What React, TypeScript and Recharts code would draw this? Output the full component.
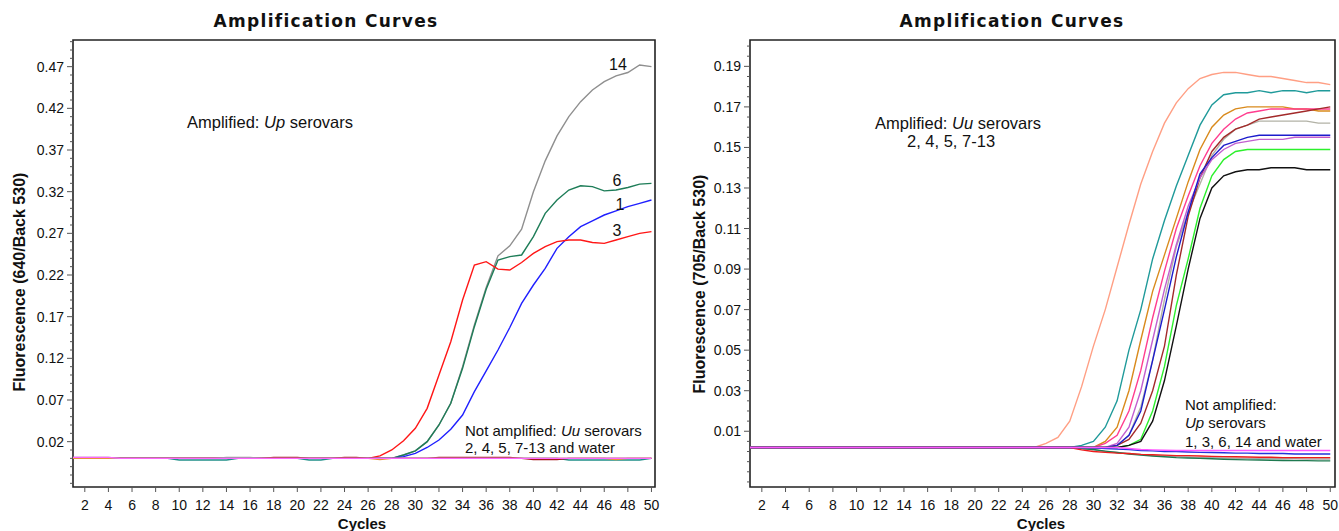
import React from 'react';
import { LineChart, Line, XAxis, YAxis, ReferenceArea } from 'recharts';

// ---------- shared x categories ----------
const cycles = [
  1, 2, 3, 4, 5, 6, 7, 8, 9, 10,
  11, 12, 13, 14, 15, 16, 17, 18, 19, 20,
  21, 22, 23, 24, 25, 26, 27, 28, 29, 30,
  31, 32, 33, 34, 35, 36, 37, 38, 39, 40,
  41, 42, 43, 44, 45, 46, 47, 48, 49, 50,
];
const xTickLabels = [2, 4, 6, 8, 10, 12, 14, 16, 18, 20, 22, 24, 26, 28, 30, 32, 34, 36, 38, 40, 42, 44, 46, 48, 50];

// ---------- left panel: 640/Back 530 ----------
const leftYTickLabels = [0.02, 0.07, 0.12, 0.17, 0.22, 0.27, 0.32, 0.37, 0.42, 0.47];

const leftUp14 = [
  0, 0, 0, 0, 0, 0, 0, 0, 0, 0,
  0, 0, 0, 0, 0, 0, 0, 0, 0, 0,
  0, 0, 0, 0, 0, 0, 0, 0, 0.004, 0.009,
  0.02, 0.04, 0.066, 0.11, 0.16, 0.205, 0.243, 0.255, 0.275, 0.32,
  0.357, 0.387, 0.41, 0.428, 0.442, 0.452, 0.459, 0.463, 0.472, 0.47,
];
const leftUp6 = [
  0, 0, 0, 0, 0, 0, 0, 0, 0, 0,
  0, 0, 0, 0, 0, 0, 0, 0, 0, 0,
  0, 0, 0, 0, 0, 0, 0, 0, 0.004, 0.009,
  0.02, 0.04, 0.066, 0.108, 0.158, 0.203, 0.238, 0.242, 0.244, 0.266,
  0.294, 0.31, 0.322, 0.327, 0.326, 0.321, 0.322, 0.325, 0.329, 0.33,
];
const leftUp1 = [
  0, 0, 0, 0, 0, 0, 0, 0, 0, 0,
  0, 0, 0, 0, 0, 0, 0, 0, 0, 0,
  0, 0, 0, 0, 0, 0, 0, 0, 0.002, 0.006,
  0.013, 0.022, 0.035, 0.052, 0.08, 0.105, 0.13, 0.157, 0.186, 0.208,
  0.228, 0.252, 0.266, 0.278, 0.285, 0.292, 0.297, 0.302, 0.306, 0.31,
];
const leftUp3 = [
  0, 0, 0, 0, 0, 0, 0, 0, 0, 0,
  0, 0, 0, 0, 0, 0, 0, 0, 0, 0,
  0, 0, 0, 0, 0, 0, 0.003, 0.01, 0.021, 0.036,
  0.06, 0.1, 0.14, 0.19, 0.232, 0.236, 0.227, 0.226, 0.235, 0.246,
  0.254, 0.26, 0.262, 0.262, 0.259, 0.258, 0.262, 0.266, 0.27, 0.272,
];
const leftUuA = [
  0, 0, 0, 0, 0, 0, 0, 0, 0, -0.002,
  -0.002, -0.002, -0.002, -0.002, 0, 0, 0, 0, 0, 0,
  -0.002, -0.002, 0, 0, 0, 0, 0, 0, 0, 0,
  0, 0, 0, 0, 0, 0, 0, 0, 0, 0,
  0, 0, -0.002, -0.002, -0.002, -0.002, -0.002, -0.002, -0.002, 0,
];
const leftUuB = [
  0, 0, 0, 0, 0, 0, 0, 0, 0, 0,
  0, 0, 0, 0, 0, 0, 0, 0.0012, 0.0012, 0.0012,
  0, 0, 0, 0.0012, 0.0012, 0, 0, 0, 0, 0,
  0, 0.0012, 0.0012, 0.0012, 0.0012, 0.0012, 0.0012, 0.0012, 0, -0.0015,
  -0.0015, -0.0015, 0, 0, 0, 0, 0, 0, 0, 0,
];
const leftUuC = [
  0, 0, 0, 0, 0, 0, 0, 0, 0, 0,
  0, 0, 0, 0, 0, 0, 0, 0, 0, 0,
  0, 0, 0, 0, 0, 0, -0.0015, 0, 0, 0,
  0, 0, 0, 0, 0, 0, 0, 0, 0, 0,
  0, 0, 0, 0, 0, 0, -0.0015, 0, 0, 0,
];
const leftUuD = [
  0.0012, 0.0012, 0.0012, 0.0012, 0, 0, 0, 0, 0, 0,
  0, 0, 0, 0.0012, 0.0012, 0.0012, 0, 0, 0, 0,
  0, 0, 0, 0, 0, 0, 0, 0, 0, 0,
  0, 0, 0, 0, 0, 0, 0, 0, 0, 0,
  0, 0, 0, 0, 0, 0, 0, 0, 0, 0,
];
const leftWater = [
  0.0012, 0.0012, 0.0012, 0.0012, 0, 0, 0, 0, 0, 0,
  0, 0, 0, 0, 0, 0, 0, 0, 0, 0,
  0, 0, 0, 0, 0, 0, 0, 0, 0, 0,
  0, 0, 0, 0, 0, 0, 0, 0, 0, 0,
  0, 0, 0, 0, 0, 0, 0, 0, 0, 0,
];

// ---------- right panel: 705/Back 530 ----------
const rightYTickLabels = [0.01, 0.03, 0.05, 0.07, 0.09, 0.11, 0.13, 0.15, 0.17, 0.19];

const rightUuSalmon = [
  0.002, 0.002, 0.002, 0.002, 0.002, 0.002, 0.002, 0.002, 0.002, 0.002,
  0.002, 0.002, 0.002, 0.002, 0.002, 0.002, 0.002, 0.002, 0.002, 0.002,
  0.002, 0.002, 0.002, 0.002, 0.002, 0.004, 0.007, 0.015, 0.032, 0.052,
  0.07, 0.091, 0.112, 0.132, 0.148, 0.162, 0.172, 0.179, 0.184, 0.186,
  0.187, 0.187, 0.186, 0.185, 0.185, 0.184, 0.183, 0.182, 0.182, 0.181,
];
const rightUuTeal = [
  0.002, 0.002, 0.002, 0.002, 0.002, 0.002, 0.002, 0.002, 0.002, 0.002,
  0.002, 0.002, 0.002, 0.002, 0.002, 0.002, 0.002, 0.002, 0.002, 0.002,
  0.002, 0.002, 0.002, 0.002, 0.002, 0.002, 0.002, 0.002, 0.003, 0.005,
  0.012, 0.025, 0.05, 0.07, 0.095, 0.114, 0.131, 0.146, 0.161, 0.171,
  0.176, 0.177, 0.177, 0.178, 0.177, 0.178, 0.178, 0.177, 0.178, 0.178,
];
const rightUuOrange = [
  0.002, 0.002, 0.002, 0.002, 0.002, 0.002, 0.002, 0.002, 0.002, 0.002,
  0.002, 0.002, 0.002, 0.002, 0.002, 0.002, 0.002, 0.002, 0.002, 0.002,
  0.002, 0.002, 0.002, 0.002, 0.002, 0.002, 0.002, 0.002, 0.002, 0.002,
  0.005, 0.012, 0.03, 0.055, 0.079, 0.097, 0.115, 0.133, 0.149, 0.16,
  0.166, 0.169, 0.17, 0.17, 0.17, 0.17, 0.169, 0.169, 0.168, 0.168,
];
const rightUuPink = [
  0.002, 0.002, 0.002, 0.002, 0.002, 0.002, 0.002, 0.002, 0.002, 0.002,
  0.002, 0.002, 0.002, 0.002, 0.002, 0.002, 0.002, 0.002, 0.002, 0.002,
  0.002, 0.002, 0.002, 0.002, 0.002, 0.002, 0.002, 0.002, 0.002, 0.002,
  0.004, 0.008, 0.02, 0.04, 0.066, 0.089, 0.11, 0.126, 0.141, 0.152,
  0.159, 0.164, 0.167, 0.168, 0.169, 0.169, 0.169, 0.169, 0.169, 0.169,
];
const rightUuDarkRed = [
  0.002, 0.002, 0.002, 0.002, 0.002, 0.002, 0.002, 0.002, 0.002, 0.002,
  0.002, 0.002, 0.002, 0.002, 0.002, 0.002, 0.002, 0.002, 0.002, 0.002,
  0.002, 0.002, 0.002, 0.002, 0.002, 0.002, 0.002, 0.002, 0.002, 0.002,
  0.002, 0.003, 0.006, 0.014, 0.03, 0.052, 0.087, 0.116, 0.135, 0.148,
  0.155, 0.159, 0.161, 0.164, 0.165, 0.166, 0.167, 0.168, 0.169, 0.17,
];
const rightUuGray = [
  0.002, 0.002, 0.002, 0.002, 0.002, 0.002, 0.002, 0.002, 0.002, 0.002,
  0.002, 0.002, 0.002, 0.002, 0.002, 0.002, 0.002, 0.002, 0.002, 0.002,
  0.002, 0.002, 0.002, 0.002, 0.002, 0.002, 0.002, 0.002, 0.002, 0.002,
  0.002, 0.003, 0.008, 0.022, 0.045, 0.075, 0.101, 0.118, 0.132, 0.146,
  0.154, 0.159, 0.161, 0.163, 0.163, 0.163, 0.163, 0.163, 0.162, 0.162,
];
const rightUuBlue = [
  0.002, 0.002, 0.002, 0.002, 0.002, 0.002, 0.002, 0.002, 0.002, 0.002,
  0.002, 0.002, 0.002, 0.002, 0.002, 0.002, 0.002, 0.002, 0.002, 0.002,
  0.002, 0.002, 0.002, 0.002, 0.002, 0.002, 0.002, 0.002, 0.002, 0.002,
  0.002, 0.003, 0.008, 0.02, 0.045, 0.07, 0.096, 0.118, 0.137, 0.145,
  0.151, 0.153, 0.155, 0.156, 0.156, 0.156, 0.156, 0.156, 0.156, 0.156,
];
const rightUuViolet = [
  0.002, 0.002, 0.002, 0.002, 0.002, 0.002, 0.002, 0.002, 0.002, 0.002,
  0.002, 0.002, 0.002, 0.002, 0.002, 0.002, 0.002, 0.002, 0.002, 0.002,
  0.002, 0.002, 0.002, 0.002, 0.002, 0.002, 0.002, 0.002, 0.002, 0.002,
  0.002, 0.004, 0.012, 0.03, 0.055, 0.08, 0.102, 0.121, 0.135, 0.144,
  0.149, 0.152, 0.153, 0.154, 0.154, 0.154, 0.155, 0.155, 0.155, 0.155,
];
const rightUuGreen = [
  0.002, 0.002, 0.002, 0.002, 0.002, 0.002, 0.002, 0.002, 0.002, 0.002,
  0.002, 0.002, 0.002, 0.002, 0.002, 0.002, 0.002, 0.002, 0.002, 0.002,
  0.002, 0.002, 0.002, 0.002, 0.002, 0.002, 0.002, 0.002, 0.002, 0.002,
  0.002, 0.002, 0.003, 0.006, 0.02, 0.042, 0.072, 0.095, 0.12, 0.136,
  0.144, 0.148, 0.149, 0.149, 0.149, 0.149, 0.149, 0.149, 0.149, 0.149,
];
const rightUuBlack = [
  0.002, 0.002, 0.002, 0.002, 0.002, 0.002, 0.002, 0.002, 0.002, 0.002,
  0.002, 0.002, 0.002, 0.002, 0.002, 0.002, 0.002, 0.002, 0.002, 0.002,
  0.002, 0.002, 0.002, 0.002, 0.002, 0.002, 0.002, 0.002, 0.002, 0.002,
  0.002, 0.002, 0.003, 0.005, 0.015, 0.035, 0.062, 0.09, 0.115, 0.13,
  0.136, 0.138, 0.139, 0.139, 0.14, 0.14, 0.14, 0.139, 0.139, 0.139,
];
const rightUp1 = [
  0.002, 0.002, 0.002, 0.002, 0.002, 0.002, 0.002, 0.002, 0.002, 0.002,
  0.002, 0.002, 0.002, 0.002, 0.002, 0.002, 0.002, 0.002, 0.002, 0.002,
  0.002, 0.002, 0.002, 0.002, 0.002, 0.002, 0.002, 0.002, 0.002, 0.0018,
  0.0015, 0.0012, 0.001, 0.0005, 0.0003, 0, 0, -0.0002, -0.0004, -0.0005,
  -0.0006, -0.0008, -0.0008, -0.001, -0.001, -0.001, -0.0012, -0.0012, -0.0012, -0.0012,
];
const rightUp3 = [
  0.002, 0.002, 0.002, 0.002, 0.002, 0.002, 0.002, 0.002, 0.002, 0.002,
  0.002, 0.002, 0.002, 0.002, 0.002, 0.002, 0.002, 0.002, 0.002, 0.002,
  0.002, 0.002, 0.002, 0.002, 0.002, 0.002, 0.002, 0.002, 0.0008, 0,
  -0.0004, -0.0008, -0.001, -0.0014, -0.0016, -0.0018, -0.002, -0.002, -0.0022, -0.0024,
  -0.0025, -0.0026, -0.0027, -0.0028, -0.0028, -0.003, -0.003, -0.003, -0.003, -0.003,
];
const rightUp6 = [
  0.002, 0.002, 0.002, 0.002, 0.002, 0.002, 0.002, 0.002, 0.002, 0.002,
  0.002, 0.002, 0.002, 0.002, 0.002, 0.002, 0.002, 0.002, 0.002, 0.002,
  0.002, 0.002, 0.002, 0.002, 0.002, 0.002, 0.002, 0.002, 0.0015, 0.001,
  0.0002, -0.0005, -0.0012, -0.0018, -0.0022, -0.0026, -0.003, -0.0032, -0.0034, -0.0036,
  -0.0038, -0.004, -0.0041, -0.0042, -0.0043, -0.0044, -0.0045, -0.0045, -0.0046, -0.0046,
];
const rightUp14 = [
  0.002, 0.002, 0.002, 0.002, 0.002, 0.002, 0.002, 0.002, 0.002, 0.002,
  0.002, 0.002, 0.002, 0.002, 0.002, 0.002, 0.002, 0.002, 0.002, 0.002,
  0.002, 0.002, 0.002, 0.002, 0.002, 0.002, 0.002, 0.002, 0.0015, 0.0008,
  0, -0.0005, -0.001, -0.0015, -0.002, -0.0022, -0.0025, -0.0027, -0.003, -0.003,
  -0.0032, -0.0033, -0.0034, -0.0035, -0.0035, -0.0036, -0.0036, -0.0037, -0.0037, -0.0037,
];
const rightWater = [
  0.002, 0.002, 0.002, 0.002, 0.002, 0.002, 0.002, 0.002, 0.002, 0.002,
  0.002, 0.002, 0.002, 0.002, 0.002, 0.002, 0.002, 0.002, 0.002, 0.002,
  0.002, 0.002, 0.002, 0.002, 0.002, 0.002, 0.002, 0.002, 0.002, 0.002,
  0.002, 0.002, 0.0015, 0.001, 0.0008, 0.0006, 0.0005, 0.0005, 0.0005, 0.0005,
  0.0005, 0.0005, 0.0005, 0.0005, 0.0005, 0.0005, 0.0005, 0.0005, 0.0005, 0.0005,
];

type Series = { key: string; values: number[]; color: string };

// drawing order: first = bottom
const leftSeries: Series[] = [
  { key: 'up14', values: leftUp14, color: '#8f8f8f' },
  { key: 'up6', values: leftUp6, color: '#1e7d58' },
  { key: 'up1', values: leftUp1, color: '#1f1fff' },
  { key: 'up3', values: leftUp3, color: '#ff1616' },
  { key: 'uuA', values: leftUuA, color: '#1f8f88' },
  { key: 'uuB', values: leftUuB, color: '#a3161c' },
  { key: 'uuC', values: leftUuC, color: '#e8923a' },
  { key: 'uuD', values: leftUuD, color: '#999999' },
  { key: 'water', values: leftWater, color: '#ff66ff' },
];

const rightSeries: Series[] = [
  { key: 'salmon', values: rightUuSalmon, color: '#ff9f84' },
  { key: 'teal', values: rightUuTeal, color: '#1f9a9a' },
  { key: 'orange', values: rightUuOrange, color: '#d98a1c' },
  { key: 'pink', values: rightUuPink, color: '#ff3d8f' },
  { key: 'gray', values: rightUuGray, color: '#b2b2a6' },
  { key: 'darkred', values: rightUuDarkRed, color: '#a32a2a' },
  { key: 'violet', values: rightUuViolet, color: '#c25fcf' },
  { key: 'blue', values: rightUuBlue, color: '#1c1ccc' },
  { key: 'green', values: rightUuGreen, color: '#2cf02c' },
  { key: 'black', values: rightUuBlack, color: '#111111' },
  { key: 'up14', values: rightUp14, color: '#a8a8a8' },
  { key: 'up6', values: rightUp6, color: '#1e7a50' },
  { key: 'up3', values: rightUp3, color: '#ee1c1c' },
  { key: 'up1', values: rightUp1, color: '#2233dd' },
  { key: 'water', values: rightWater, color: '#ff55ff' },
];

const FONT = '"Liberation Sans", Arial, sans-serif';

function buildRows(series: Series[]) {
  return cycles.map((c, i) => {
    const r: Record<string, number> = { cycle: c };
    series.forEach((s) => {
      r[s.key] = s.values[i];
    });
    return r;
  });
}

function minorTicks(domain: [number, number], step: number): number[] {
  const out: number[] = [];
  const start = Math.ceil(domain[0] / step);
  const end = Math.floor(domain[1] / step);
  for (let k = start; k <= end; k++) out.push(Math.round(k * step * 10000) / 10000);
  return out;
}

type PanelProps = {
  left: number;
  width: number;
  yAxisWidth: number;
  marginRight: number;
  series: Series[];
  yDomain: [number, number];
  xDomain: [number, number];
  yMajor: number[];
  yMinorStep: number;
};

function Panel(p: PanelProps) {
  const rows = buildRows(p.series);
  const minors = minorTicks(p.yDomain, p.yMinorStep);
  const allTicks = Array.from(new Set([...minors, ...p.yMajor])).sort((a, b) => a - b);
  const isMajor = (v: number) => p.yMajor.some((m) => Math.abs(m - v) < 1e-7);

  const yTick = (props: any) => {
    const { x, y, payload } = props;
    const v = payload.value as number;
    const major = isMajor(v);
    return (
      <g>
        <line x1={x - (major ? 6 : 3)} x2={x} y1={y} y2={y} stroke="#555" strokeWidth={1} />
        {major && (
          <text x={x - 9} y={y} dy="0.36em" textAnchor="end" fontSize={14} fontFamily={FONT} fill="#111">
            {v.toFixed(2)}
          </text>
        )}
      </g>
    );
  };

  const xTick = (props: any) => {
    const { x, y, payload } = props;
    return (
      <g>
        <line x1={x} x2={x} y1={y} y2={y + 5} stroke="#555" strokeWidth={1} />
        <text x={x} y={y + 18} dy="0.36em" textAnchor="middle" fontSize={14} fontFamily={FONT} fill="#111">
          {payload.value}
        </text>
      </g>
    );
  };

  return (
    <div style={{ position: 'absolute', left: p.left, top: 0 }}>
      <LineChart
        width={p.width}
        height={531}
        data={rows}
        margin={{ top: 40, right: p.marginRight, bottom: 14, left: 0 }}
      >
        <XAxis
          dataKey="cycle"
          type="number"
          domain={p.xDomain}
          allowDataOverflow
          ticks={xTickLabels}
          interval={0}
          tickSize={0}
          tickMargin={0}
          tickLine={false}
          axisLine={false}
          tick={xTick}
          height={30}
        />
        <YAxis
          type="number"
          domain={p.yDomain}
          allowDataOverflow
          ticks={allTicks}
          interval={0}
          tickSize={0}
          tickMargin={0}
          tickLine={false}
          axisLine={false}
          tick={yTick}
          width={p.yAxisWidth}
        />
        <ReferenceArea
          x1={p.xDomain[0]}
          x2={p.xDomain[1]}
          y1={p.yDomain[0]}
          y2={p.yDomain[1]}
          fill="none"
          fillOpacity={0}
          stroke="#222"
          strokeWidth={1.6}
          ifOverflow="visible"
        />
        {p.series.map((s) => (
          <Line
            key={s.key}
            dataKey={s.key}
            type="linear"
            stroke={s.color}
            strokeWidth={1.4}
            dot={false}
            activeDot={false}
            isAnimationActive={false}
          />
        ))}
      </LineChart>
    </div>
  );
}

const abs = (left: number, top: number, extra: React.CSSProperties = {}): React.CSSProperties => ({
  position: 'absolute',
  left,
  top,
  whiteSpace: 'nowrap',
  fontFamily: FONT,
  color: '#111',
  lineHeight: 1,
  ...extra,
});

function Title({ cx, cy, children }: { cx: number; cy: number; children: React.ReactNode }) {
  return (
    <div
      style={abs(cx, cy, {
        transform: 'translate(-50%, -50%)',
        fontFamily: '"DejaVu Sans", sans-serif',
        fontWeight: 700,
        fontSize: 17,
        letterSpacing: 1.3,
      })}
    >
      {children}
    </div>
  );
}

function Centered({ cx, cy, size, bold, rotate, children }: { cx: number; cy: number; size: number; bold?: boolean; rotate?: boolean; children: React.ReactNode }) {
  return (
    <div
      style={abs(cx, cy, {
        transform: `translate(-50%, -50%)${rotate ? ' rotate(-90deg)' : ''}`,
        fontWeight: bold ? 700 : 400,
        fontSize: size,
      })}
    >
      {children}
    </div>
  );
}

function Note({ x, cy, size, children }: { x: number; cy: number; size: number; children: React.ReactNode }) {
  return <div style={abs(x, cy, { transform: 'translateY(-50%)', fontSize: size })}>{children}</div>;
}

export default function App() {
  return (
    <div
      style={{
        position: 'absolute',
        left: 0,
        top: 0,
        width: 1339,
        height: 531,
        background: '#fff',
        overflow: 'hidden',
      }}
    >
      <Panel
        left={0}
        width={670}
        yAxisWidth={73}
        marginRight={15}
        series={leftSeries}
        yDomain={[-0.0344, 0.502]}
        xDomain={[1, 50.3]}
        yMajor={leftYTickLabels}
        yMinorStep={0.01}
      />
      <Panel
        left={670}
        width={669}
        yAxisWidth={80}
        marginRight={4}
        series={rightSeries}
        yDomain={[-0.0175, 0.203]}
        xDomain={[1, 50.4]}
        yMajor={rightYTickLabels}
        yMinorStep={0.005}
      />

      <Title cx={326} cy={21}>Amplification Curves</Title>
      <Title cx={1012} cy={21}>Amplification Curves</Title>

      <Centered cx={20} cy={282} size={16} bold rotate>Fluorescence (640/Back 530)</Centered>
      <Centered cx={700} cy={284} size={16} bold rotate>Fluorescence (705/Back 530)</Centered>
      <Centered cx={362} cy={523} size={15} bold>Cycles</Centered>
      <Centered cx={1041} cy={523} size={15} bold>Cycles</Centered>

      <Note x={187} cy={122} size={16.5}>Amplified: <i>Up</i> serovars</Note>
      <Note x={465} cy={430} size={15}>Not amplified: <i>Uu</i> serovars</Note>
      <Note x={465} cy={447} size={15}>2, 4, 5, 7-13 and water</Note>
      <Centered cx={618} cy={65} size={16}>14</Centered>
      <Centered cx={617} cy={181} size={16}>6</Centered>
      <Centered cx={620} cy={205} size={16}>1</Centered>
      <Centered cx={617} cy={231} size={16}>3</Centered>

      <Note x={875} cy={123} size={16.5}>Amplified: <i>Uu</i> serovars</Note>
      <Note x={907} cy={141} size={16.5}>2, 4, 5, 7-13</Note>
      <Note x={1185} cy={404} size={15}>Not amplified:</Note>
      <Note x={1185} cy={422} size={15}><i>Up</i> serovars</Note>
      <Note x={1185} cy={441} size={15}>1, 3, 6, 14 and water</Note>
    </div>
  );
}
